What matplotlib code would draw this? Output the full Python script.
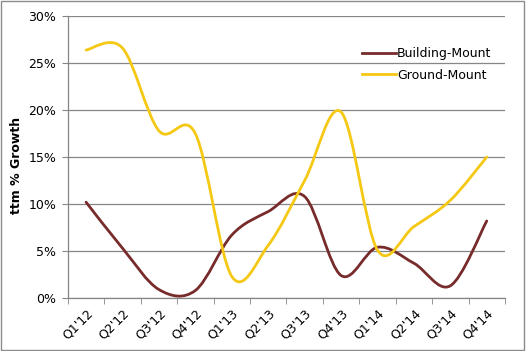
import matplotlib
matplotlib.use('Agg')
import matplotlib.pyplot as plt
import numpy as np
from matplotlib.path import Path
from matplotlib.patches import PathPatch, Rectangle
from matplotlib.lines import Line2D
from matplotlib.ticker import FuncFormatter, FixedLocator

# ttm % growth by quarter
quarters = ["Q1'12", "Q2'12", "Q3'12", "Q4'12", "Q1'13", "Q2'13",
            "Q3'13", "Q4'13", "Q1'14", "Q2'14", "Q3'14", "Q4'14"]
building = [10.2, 5.3, 0.9, 0.8, 6.7, 9.2, 10.8, 2.4, 5.4, 3.7, 1.3, 8.2]
ground = [26.4, 26.6, 17.8, 17.5, 2.3, 5.6, 12.5, 19.8, 5.1, 7.6, 10.4, 15.0]

BUILDING_COLOR = '#772B2B'
GROUND_COLOR = '#F5C814'
GRID_COLOR = '#868686'


def smooth_path(vals):
    # Excel-style smoothed line: cubic Bezier segments through each point
    y = np.asarray(vals, dtype=float)
    x = np.arange(len(y), dtype=float)
    verts = [(x[0], y[0])]
    codes = [Path.MOVETO]
    n = len(y)
    for i in range(n - 1):
        p = max(i - 1, 0)
        q = min(i + 2, n - 1)
        c1 = (x[i] + (x[i + 1] - x[p]) / 6, y[i] + (y[i + 1] - y[p]) / 6)
        c2 = (x[i + 1] - (x[q] - x[i]) / 6, y[i + 1] - (y[q] - y[i]) / 6)
        verts += [c1, c2, (x[i + 1], y[i + 1])]
        codes += [Path.CURVE4] * 3
    return Path(verts, codes)


fig = plt.figure(figsize=(5.26, 3.51), dpi=100)
ax = fig.add_axes([0.129, 0.151, 0.831, 0.803])

for vals, col in [(building, BUILDING_COLOR), (ground, GROUND_COLOR)]:
    ax.add_patch(PathPatch(smooth_path(vals), facecolor='none', edgecolor=col,
                           lw=2.0, capstyle='round', zorder=3))

ax.set_xlim(-0.5, len(quarters) - 0.5)
ax.set_ylim(0, 30)
ax.set_yticks(np.arange(0, 31, 5))
ax.yaxis.set_major_formatter(FuncFormatter(lambda v, _: f'{v:.0f}%'))
ax.yaxis.grid(True, color=GRID_COLOR, lw=0.9)
ax.set_axisbelow(True)

# category labels at centres, tick marks at category boundaries
ax.set_xticks(np.arange(len(quarters)))
ax.set_xticklabels(quarters, rotation=45, ha='right', rotation_mode='anchor')
ax.xaxis.set_minor_locator(FixedLocator(np.arange(-0.5, len(quarters), 1.0)))
ax.tick_params(axis='x', which='major', length=0, pad=6, labelsize=9)
ax.tick_params(axis='x', which='minor', length=4, color=GRID_COLOR, direction='out')
ax.tick_params(axis='y', length=4, color=GRID_COLOR, labelsize=9, pad=4.5)

for s in ['top', 'right']:
    ax.spines[s].set_visible(False)
for s in ['left', 'bottom']:
    ax.spines[s].set_color(GRID_COLOR)
    ax.spines[s].set_linewidth(0.9)

ax.set_ylabel('ttm % Growth', fontsize=9, fontweight='bold')
ax.yaxis.set_label_coords(-0.103, 0.47)

handles = [Line2D([], [], color=BUILDING_COLOR, lw=2.0),
           Line2D([], [], color=GROUND_COLOR, lw=2.0)]
fig.legend(handles, ['Building-Mount', 'Ground-Mount'], loc='upper left',
           bbox_to_anchor=(0.667, 0.898), frameon=False, fontsize=9,
           handlelength=2.7, handletextpad=0.1, labelspacing=0.7)

fig.add_artist(Rectangle((0.002, 0.003), 0.994, 0.994, transform=fig.transFigure,
                         fill=False, edgecolor='#8C8C8C', lw=1.0))

plt.savefig('out.png', dpi=100)
